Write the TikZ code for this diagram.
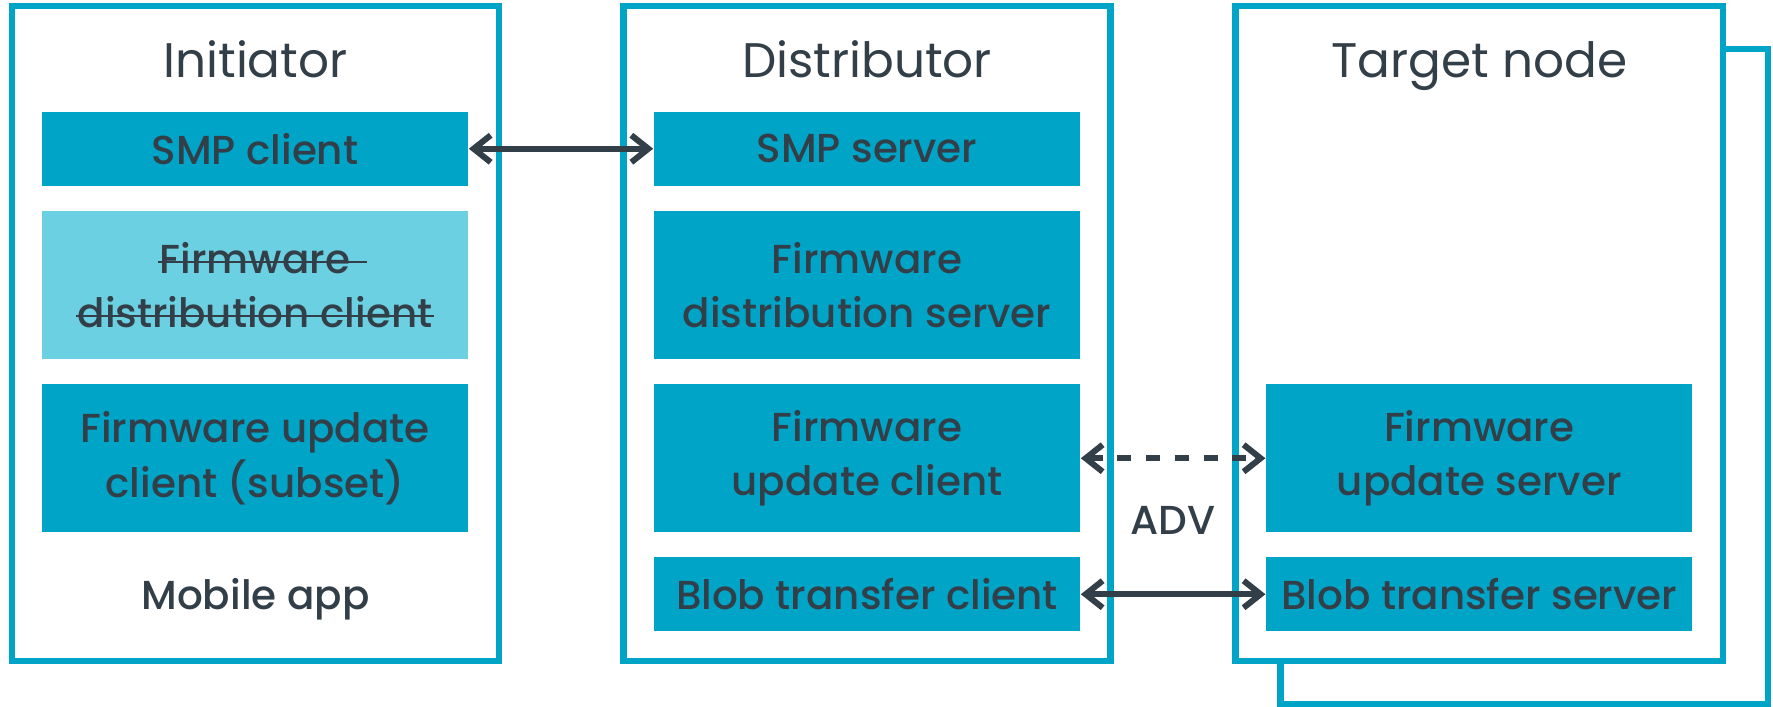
\documentclass[tikz,border=0pt]{standalone}
\usepackage{fontspec}
\setmainfont{Poppins Medium}
\newfontfamily\headfamily{Poppins}
\usetikzlibrary{arrows.meta}

\definecolor{sigblue}{HTML}{00A4C7}
\definecolor{siglight}{HTML}{6CD0E3}
\definecolor{ink}{HTML}{333F48}

% struck-through text: #1 extra on the left, #2 extra on the right
\newlength\strikelen
\newcommand\struck[3]{%
  \settowidth\strikelen{#3}%
  \addtolength\strikelen{#1}\addtolength\strikelen{#2}%
  \kern-#1\rlap{\rule[0.26em]{\strikelen}{0.06em}}\kern#1#3}

\newcommand\titlefont{\headfamily\fontsize{13.8}{17}\selectfont}
\newcommand\boxfont{\fontsize{11.5}{15.4}\selectfont}

\tikzset{
  frame/.style={draw=sigblue, line width=0.065cm, fill=white,
    minimum width=4.87cm, minimum height=6.55cm, inner sep=0pt},
  comp/.style={fill=sigblue, text=ink, inner sep=0pt, align=center,
    minimum width=4.26cm, font=\boxfont},
  compsmall/.style={comp, minimum height=0.735cm},
  compbig/.style={comp, minimum height=1.475cm},
  title/.style={text=ink, anchor=base, inner sep=0pt, font=\titlefont},
  note/.style={text=ink, anchor=base, inner sep=0pt, font=\boxfont},
  link/.style={ink, line width=0.06cm,
    {Straight Barb[length=0.17cm, width=0.27cm, line width=0.06cm]}-{Straight Barb[length=0.17cm, width=0.27cm, line width=0.06cm]}},
  advlink/.style={link, dash pattern=on 0.14cm off 0.147cm},
}

\begin{document}
\begin{tikzpicture}[x=0.01cm, y=-0.01cm]
\useasboundingbox (0,0) rectangle (1773,707);

% outer frames (the target node has a second frame behind it)
\node[frame] (initiator) at (255.5,333.5) {};
\node[frame] (distributor) at (867,333.5) {};
\node[frame] (targetback) at (1524.25,376.5) {};
\node[frame] (target) at (1479.25,333.5) {};

% frame titles
\node[title] (tinit) at (255.5,78) {Initiator};
\node[title] (tdist) at (867,78) {Distributor};
\node[title] (ttarget) at (1479.25,78) {Target node};

% initiator components
\node[compsmall] (smpc) at (255,148.75) {SMP client};
\node[compbig, fill=siglight] (fdc) at (255,285.25)
  {\struck{0.05em}{0.42em}{Firmware}\\\struck{0.04em}{0.04em}{distribution client}};
\node[compbig] (fuc) at (255,458.25) {Firmware update\\client (subset)};
\node[note] (mobile) at (255.5,610) {Mobile app};

% distributor components
\node[compsmall] (smps) at (867,148.75) {SMP server};
\node[compbig] (fds) at (867,285.25) {Firmware\\distribution server};
\node[compbig] (fudc) at (867,458.25) {Firmware\\update client};
\node[compsmall] (btc) at (867,594.25) {Blob transfer client};

% target node components
\node[compbig] (fus) at (1479.25,458.25) {Firmware\\update server};
\node[compsmall] (bts) at (1479.25,594.25) {Blob transfer server};

% connections
\draw[link] (smpc.east) -- (smps.west);
\draw[advlink] (fudc.east) -- (fus.west);
\draw[link] (btc.east) -- (bts.west);
\node[note] (adv) at (1173,535) {ADV};
\end{tikzpicture}
\end{document}
